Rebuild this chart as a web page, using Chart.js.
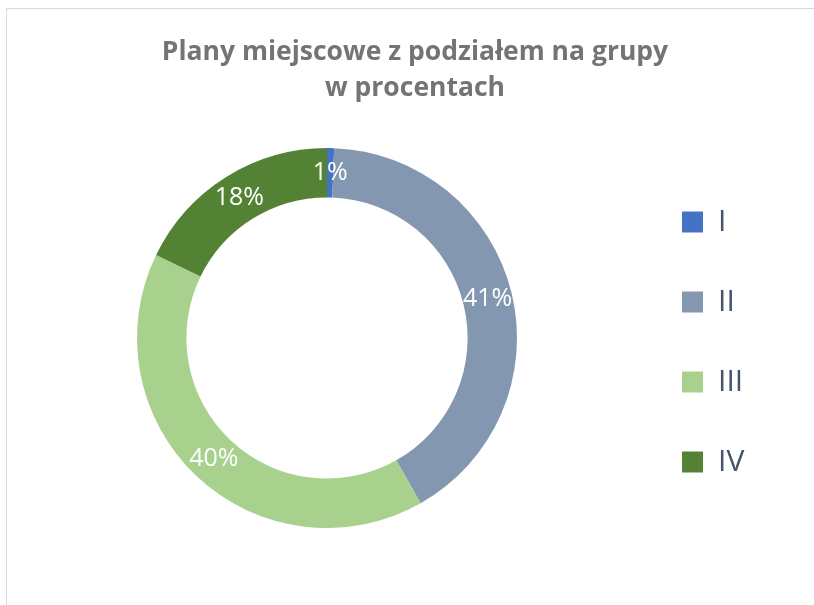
<!DOCTYPE html>
<html>
<head>
<meta charset="utf-8">
<script src="https://cdn.jsdelivr.net/npm/chart.js@4/dist/chart.umd.min.js"></script>
<style>
  html, body { margin: 0; padding: 0; background: #fff; overflow: hidden; }
  #frame { position: absolute; left: 6px; top: 8px; width: 900px; height: 700px; border: 1px solid #d9d9d9; }
  #wrap { position: absolute; left: 0; top: 0; width: 814px; height: 605px; }
</style>
</head>
<body>
<div id="frame"></div>
<div id="wrap"><canvas id="myChart" width="814" height="605"></canvas></div>
<script>
let groups = ['I', 'II', 'III', 'IV']
let shares = [0.6, 41.2, 40.4, 17.8]
let titleLines = ['Plany miejscowe z podziałem na grupy', 'w procentach']
let colors = ['#4472c4', '#8497b0', '#a9d18e', '#548235']

// white % labels in the middle of the ring
let ringLabels = {
    id: 'ringLabels',
    afterDatasetsDraw(chart) {
        let ctx = chart.ctx
        let meta = chart.getDatasetMeta(0)
        ctx.save()
        ctx.fillStyle = '#ffffff'
        ctx.font = '25px "Open Sans"'
        ctx.textAlign = 'center'
        ctx.textBaseline = 'middle'
        meta.data.forEach((arc, i) => {
            let p = arc.getProps(['x', 'y', 'startAngle', 'endAngle', 'innerRadius', 'outerRadius'], true)
            let a = (p.startAngle + p.endAngle) / 2
            let r = (p.innerRadius + p.outerRadius) / 2
            ctx.fillText(Math.round(shares[i]) + '%', p.x + Math.cos(a) * r, p.y + Math.sin(a) * r)
        })
        ctx.restore()
    }
}

let ctx = document.getElementById('myChart').getContext('2d')
let chart = new Chart(ctx, {
    type: 'doughnut',
    data: {
        labels: groups,
        datasets: [{
            data: shares,
            backgroundColor: colors,
            borderWidth: 0
        }]
    },
    options: {
        responsive: false,
        animation: false,
        cutout: '74%',
        layout: { padding: { left: 22, right: 6, top: 34, bottom: 77 } },
        plugins: {
            tooltip: { enabled: false },
            title: {
                display: true,
                text: titleLines,
                color: '#747474',
                font: { family: '"Open Sans"', size: 26.5, weight: 'bold', lineHeight: '36px' },
                padding: { top: 0, bottom: 42 }
            },
            legend: {
                position: 'right',
                fullSize: false,
                // empty title only pushes the items a little lower
                title: { display: true, text: '', padding: 0, font: { size: 8, lineHeight: '8px' } },
                labels: {
                    boxWidth: 21,
                    boxHeight: 21,
                    padding: 50,
                    color: '#44546a',
                    font: { family: '"Open Sans"', size: 30 }
                }
            }
        }
    },
    plugins: [ringLabels]
})

// legend keeps the empty space at its right side, like the original
let baseFit = chart.legend.fit
chart.legend.fit = function () {
    baseFit.call(this)
    this.width = 176
}
chart.update()
</script>
</body>
</html>
